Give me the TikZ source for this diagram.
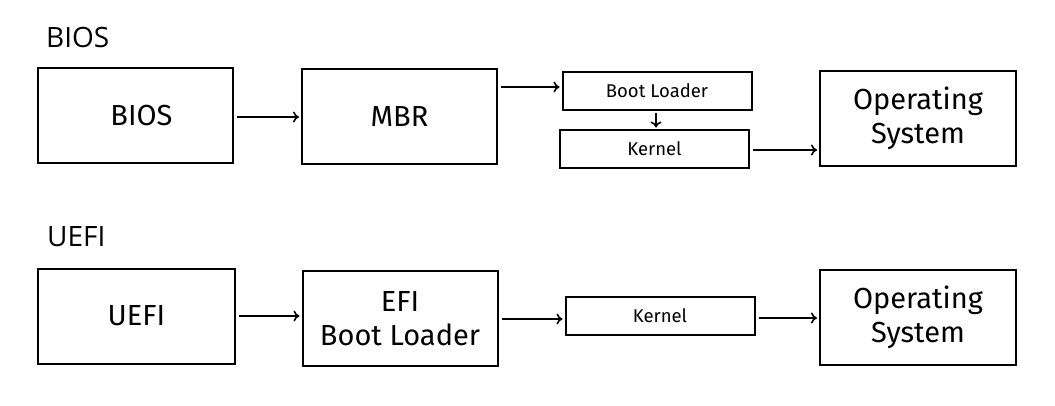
\documentclass[tikz,border=0pt]{standalone}
\usepackage{fontspec}
\setmainfont{Fira Sans}
\newfontfamily\headfont{Open Sans}
\usepackage{tikz}
\usetikzlibrary{
    arrows.meta,
    positioning,
    calc
}
\tikzstyle{stagebox} = [
    draw,
    line width=2pt,
    minimum width=195pt,
    minimum height=95pt,
    inner sep=0pt,
    align=center,
    font=\fontsize{29}{34}\selectfont
]
\tikzstyle{smallbox} = [
    draw,
    line width=2pt,
    minimum width=189pt,
    minimum height=38pt,
    inner sep=0pt,
    font=\fontsize{18.5}{22}\selectfont
]
\tikzstyle{arrow} = [
    -{To[length=6pt,width=11pt]},
    line width=1.6pt,
    shorten <=3pt,
    shorten >=2pt
]

\begin{document}
\begin{tikzpicture}[x=1pt,y=-1pt]
        \useasboundingbox[fill=white] (0,0) rectangle (1055,405);

        % Headings
        \node[anchor=base west, inner sep=0pt, font=\headfont\fontsize{28}{32}\selectfont] (biostitle) at (46,47) {BIOS};
        \node[anchor=base west, inner sep=0pt, font=\headfont\fontsize{28}{32}\selectfont] (uefititle) at (47,246) {UEFI};

        % BIOS chain
        \node[stagebox] (bios) at (135.5,115.5) {\hspace*{12pt}BIOS};
        \node[stagebox] (mbr) at (399.5,116.5) {MBR};
        \node[smallbox] (bootloader) at (657,90.5) {Boot Loader};
        \node[smallbox] (kernelA) at (654.5,148.5) {Kernel};
        \node[stagebox, minimum width=196pt] (osA) at (918,118.5) {Operating\\System};

        \draw[arrow] (bios.east |- 0,117) -- (mbr.west |- 0,117);
        \draw[arrow] (mbr.east |- 0,87) -- (bootloader.west |- 0,87);
        \draw[arrow, shorten <=2pt, shorten >=1pt] (bootloader.south -| 656,0) -- (kernelA.north -| 656,0);
        \draw[arrow] (kernelA.east |- 0,150) -- (osA.west |- 0,150);

        % UEFI chain
        \node[stagebox, minimum width=197pt] (uefi) at (136.5,316) {UEFI};
        \node[stagebox] (efiloader) at (400,318.5) {EFI\\Boot Loader};
        \node[smallbox] (kernelB) at (660,316) {Kernel};
        \node[stagebox, minimum width=196pt] (osB) at (918,317.5) {Operating\\System};

        \draw[arrow] (uefi.east |- 0,316) -- (efiloader.west |- 0,316);
        \draw[arrow] (efiloader.east |- 0,319) -- (kernelB.west |- 0,319);
        \draw[arrow] (kernelB.east |- 0,318) -- (osB.west |- 0,318);
    \end{tikzpicture}
\end{document}
